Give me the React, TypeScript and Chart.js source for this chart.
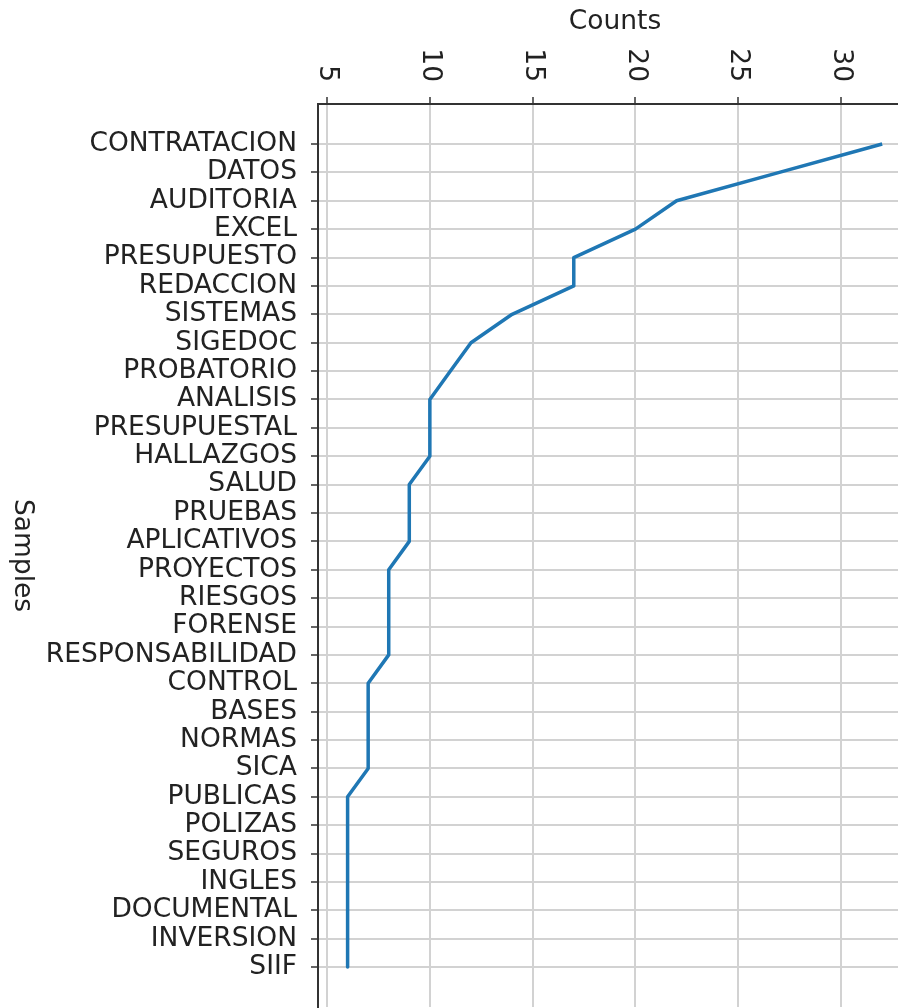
import React, { useEffect, useRef } from "react";
import { Chart, registerables } from "chart.js";

Chart.register(...registerables);

const samples = [
  "CONTRATACION", "DATOS", "AUDITORIA", "EXCEL", "PRESUPUESTO", "REDACCION",
  "SISTEMAS", "SIGEDOC", "PROBATORIO", "ANALISIS", "PRESUPUESTAL", "HALLAZGOS",
  "SALUD", "PRUEBAS", "APLICATIVOS", "PROYECTOS", "RIESGOS", "FORENSE",
  "RESPONSABILIDAD", "CONTROL", "BASES", "NORMAS", "SICA", "PUBLICAS",
  "POLIZAS", "SEGUROS", "INGLES", "DOCUMENTAL", "INVERSION", "SIIF",
];
const counts = [
  32, 27, 22, 20, 17, 17, 14, 12, 11, 10, 10, 10, 9, 9, 9, 8, 8, 8, 8, 7, 7, 7, 7,
  6, 6, 6, 6, 6, 6, 6,
];
const countTicks = [5, 10, 15, 20, 25, 30];
const xTitle = "Counts";
const yTitle = "Samples";

const FAMILY = '"DejaVu Sans", sans-serif';
const FONT_SIZE = 26.5;
const TEXT = "#222";

export default function App() {
  const ref = useRef<HTMLCanvasElement>(null);

  useEffect(() => {
    const canvas = ref.current;
    if (!canvas) return;

    const textPlugin = {
      id: "rotatedText",
      afterDraw(chart: any) {
        const ctx = chart.ctx as CanvasRenderingContext2D;
        const xs = chart.scales.x;
        const area = chart.chartArea;
        ctx.save();
        ctx.fillStyle = TEXT;
        ctx.font = `${FONT_SIZE}px ${FAMILY}`;
        ctx.textAlign = "right";
        ctx.textBaseline = "middle";
        for (const t of xs.ticks) {
          const px = xs.getPixelForValue(t.value);
          ctx.save();
          ctx.translate(px, area.top - 7 - 15);
          ctx.rotate(Math.PI / 2);
          ctx.fillText(String(t.value), 0, 0);
          ctx.restore();
        }
        ctx.textAlign = "center";
        ctx.textBaseline = "middle";
        ctx.fillText(xTitle, (area.left + area.right) / 2, 22);
        ctx.save();
        ctx.translate(22, (area.top + area.bottom) / 2);
        ctx.rotate(Math.PI / 2);
        ctx.fillText(yTitle, 0, 0);
        ctx.restore();
        ctx.restore();
      },
    };

    const gridOpts = {
      color: "#d2d2d2",
      lineWidth: 2,
      drawTicks: true,
      tickLength: 7,
      tickColor: "#333",
      tickWidth: 1.5,
    };
    const borderOpts = { display: true, color: "#333", width: 2 };

    const chart = new Chart(canvas, {
      type: "line",
      data: {
        datasets: [
          {
            data: counts.map((c, i) => ({ x: c, y: i })),
            borderColor: "#1f77b4",
            backgroundColor: "#1f77b4",
            borderWidth: 3.5,
            pointRadius: 0,
            fill: false,
            tension: 0,
            borderJoinStyle: "round",
          },
        ],
      },
      options: {
        indexAxis: "y",
        animation: false,
        responsive: true,
        maintainAspectRatio: false,
        devicePixelRatio: 1,
        layout: { padding: { left: 0, top: 0, right: 8, bottom: 0 } },
        plugins: {
          legend: { display: false },
          tooltip: { enabled: false },
        },
        scales: {
          x: {
            type: "linear",
            position: "top",
            min: 4.56,
            max: 33.45,
            afterBuildTicks: (a: any) => {
              a.ticks = countTicks.map((v) => ({ value: v }));
            },
            afterFit: (a: any) => {
              a.height = 104;
            },
            ticks: { display: false },
            grid: gridOpts,
            border: borderOpts,
          },
          y: {
            type: "linear",
            position: "left",
            reverse: true,
            min: -1.41,
            max: 30.41,
            afterBuildTicks: (a: any) => {
              a.ticks = samples.map((_, i) => ({ value: i }));
            },
            afterFit: (a: any) => {
              a.width = 318;
            },
            ticks: {
              autoSkip: false,
              padding: 14,
              color: TEXT,
              font: { family: FAMILY, size: FONT_SIZE },
              callback: (v: any) => samples[v as number] ?? "",
            },
            grid: gridOpts,
            border: borderOpts,
          },
        },
      } as any,
      plugins: [textPlugin],
    });

    return () => chart.destroy();
  }, []);

  return (
    <div
      style={{
        position: "absolute",
        left: 0,
        top: 0,
        width: 898,
        height: 1008,
        overflow: "hidden",
        background: "#fff",
      }}
    >
      <div style={{ position: "relative", width: 920, height: 1037 }}>
        <canvas ref={ref} />
      </div>
    </div>
  );
}
